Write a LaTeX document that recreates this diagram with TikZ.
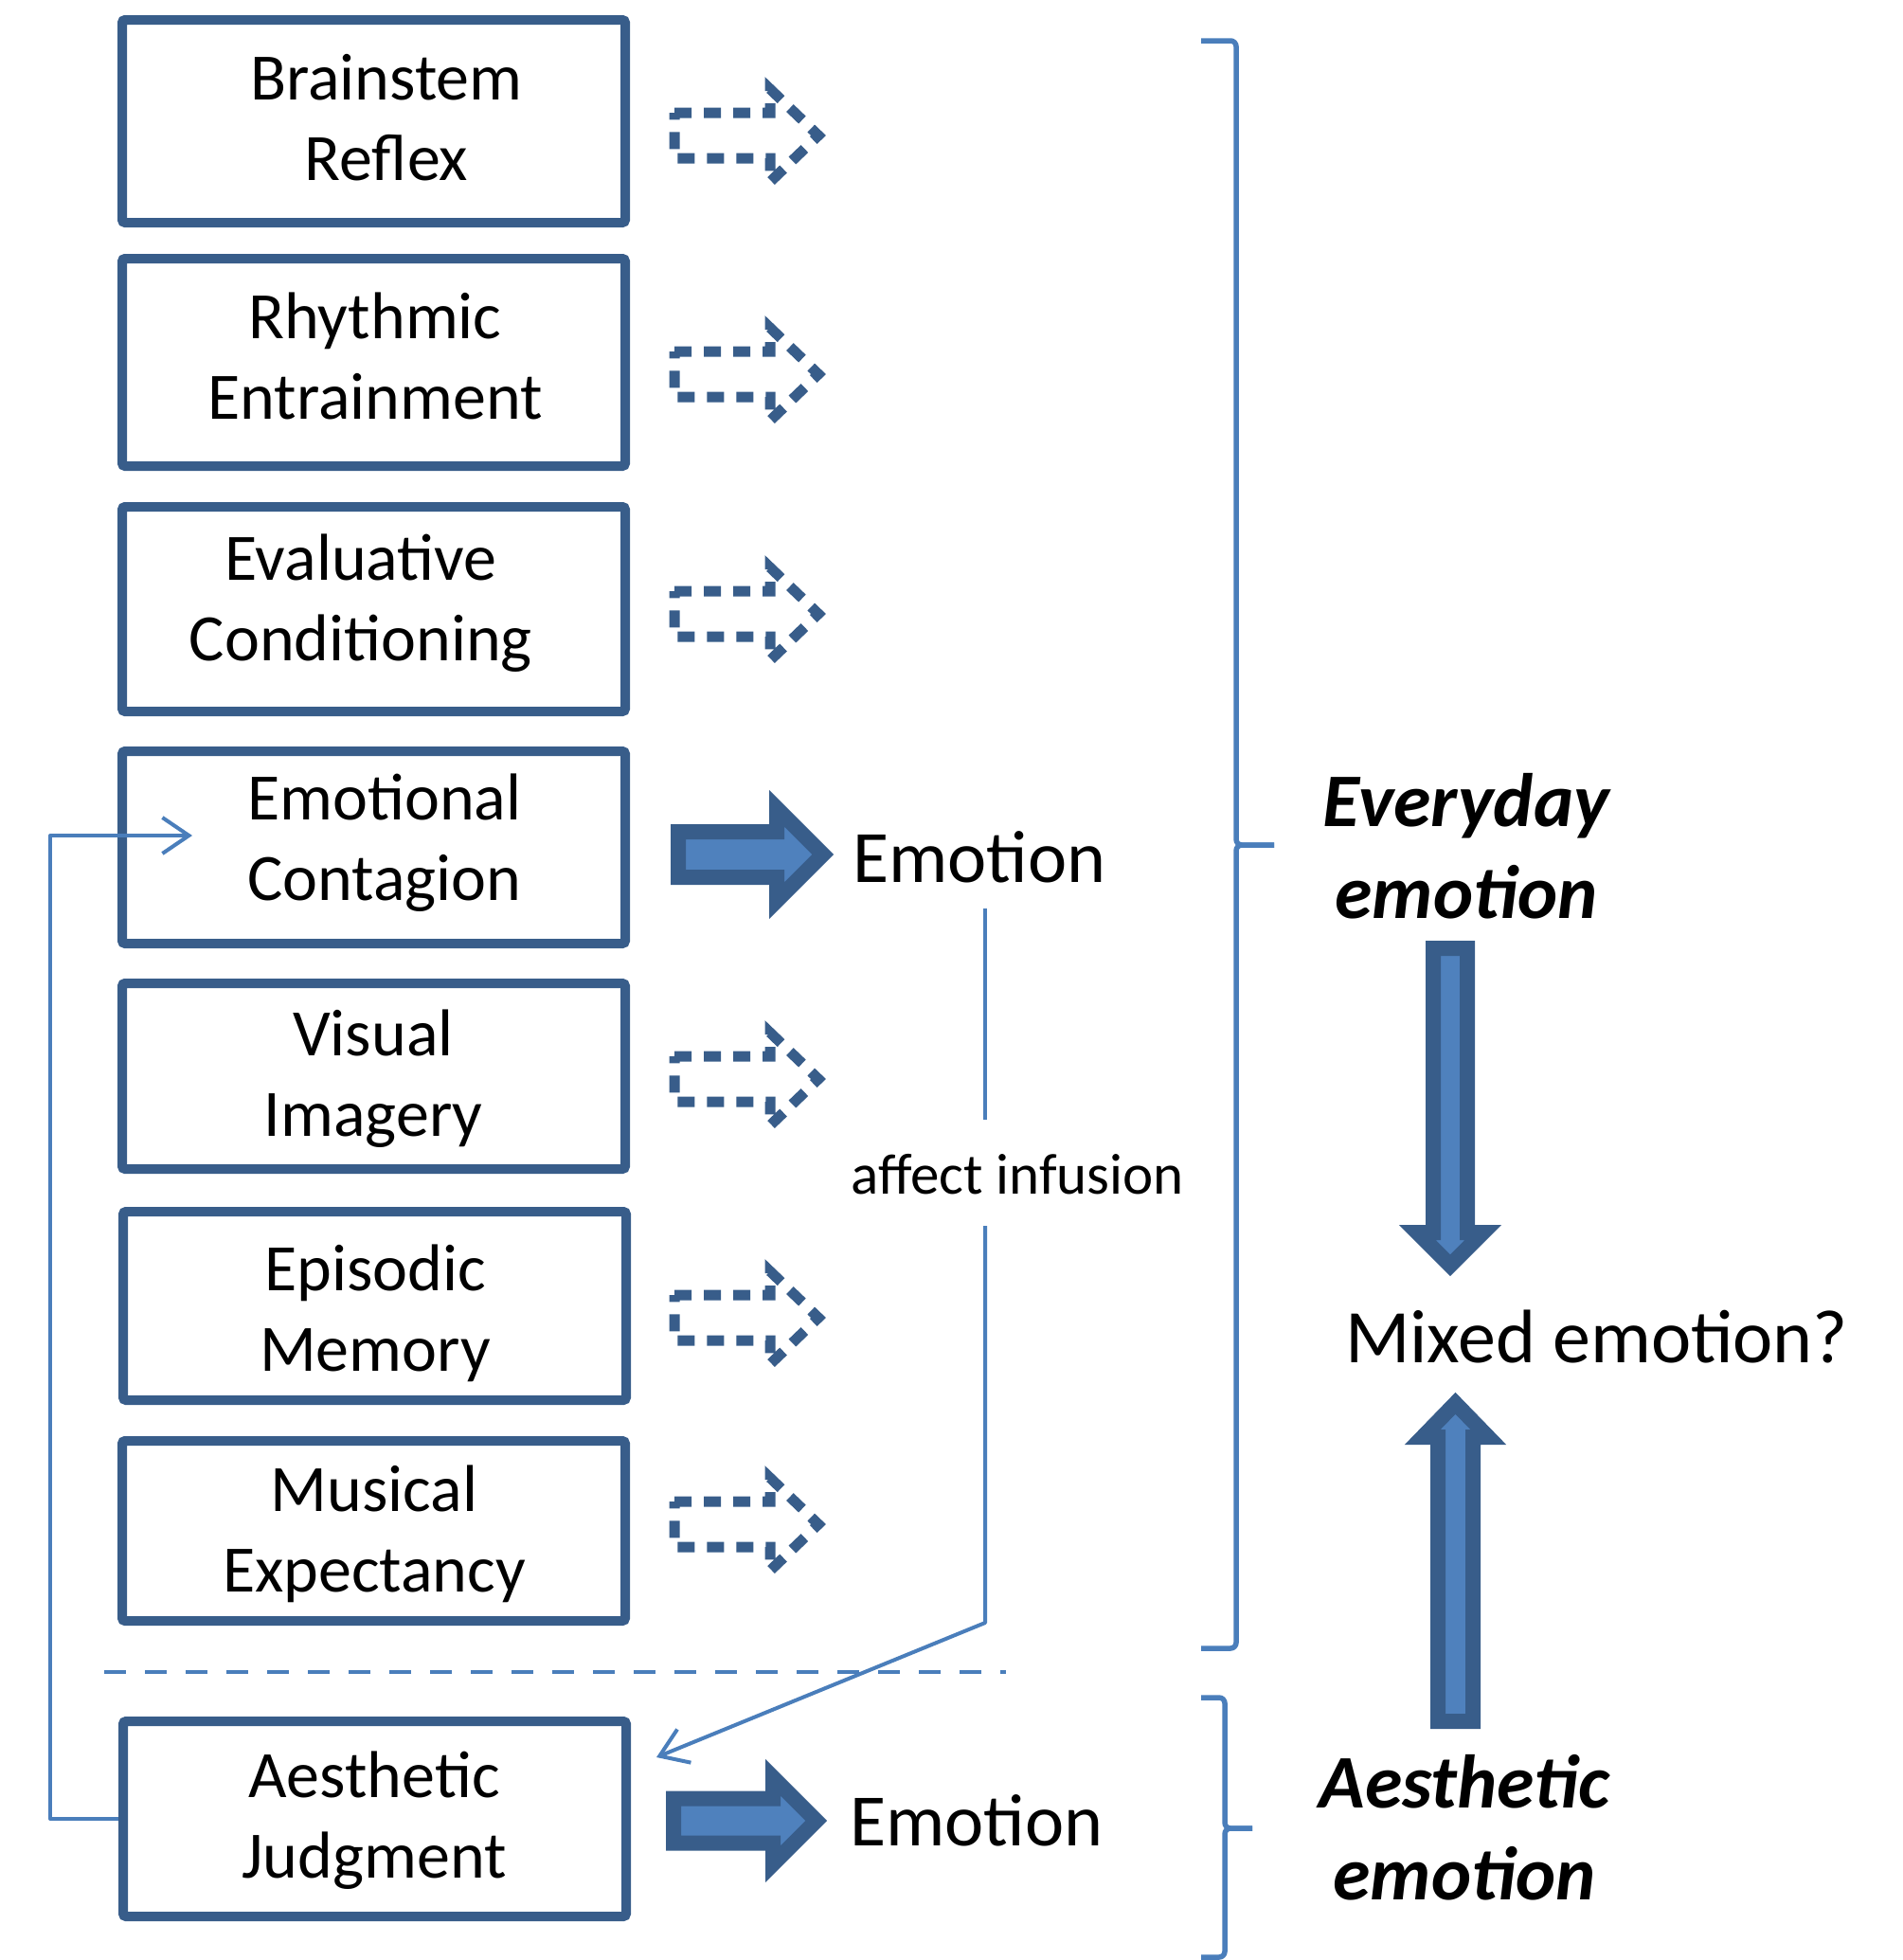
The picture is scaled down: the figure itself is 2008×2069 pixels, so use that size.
\documentclass[tikz,border=0pt]{standalone}
\usepackage{fontspec}
\setmainfont{Carlito}
\usetikzlibrary{arrows.meta}
\definecolor{dk}{RGB}{56,93,138}
\definecolor{lt}{RGB}{79,129,189}
\definecolor{ln}{RGB}{74,126,187}
\newcommand\bx[1]{\vphantom{H}\smash{#1}}
\begin{document}
\begin{tikzpicture}[x=1pt,y=-1pt,
  boxst/.style={draw=dk,line width=10pt,rounded corners=3pt,minimum width=531pt,inner sep=0pt},
  btext/.style={align=center,inner sep=0pt,font=\fontsize{70}{85}\selectfont},
  dasharr/.style={draw=dk,line width=11pt,dash pattern=on 18pt off 13pt},
  blockarr/.style={fill=lt,draw=dk,line width=16pt,line join=miter},
  conn/.style={draw=ln,line width=4pt,line join=round},
  brace/.style={draw=ln,line width=5.5pt,rounded corners=6pt},
  barb/.style={-{Straight Barb[length=28pt,width=38pt]}},
  emo/.style={anchor=base west,inner sep=0pt,font=\fontsize{78}{93}\selectfont},
  side/.style={align=center,inner sep=0pt,font=\fontsize{80}{97}\selectfont\bfseries\itshape},
]
\useasboundingbox (0,0) rectangle (2008,2069);

% boxes
\node[boxst,minimum height=214pt] (b1) at (394.5,128) {};
\node[btext] (t1) at (408,126) {\bx{Brainstem}\\\bx{Reflex}};
\node[boxst,minimum height=219pt] (b2) at (394.5,382.5) {};
\node[btext] (t2) at (396,378) {\bx{Rhythmic}\\\bx{Entrainment}};
\node[boxst,minimum height=216pt] (b3) at (394.5,643) {};
\node[btext] (t3) at (381,633) {\bx{Evaluative}\\\bx{Conditioning}};
\node[boxst,minimum height=203pt] (b4) at (394.5,894.5) {};
\node[btext] (t4) at (406,886) {\bx{Emotional}\\\bx{Contagion}};
\node[boxst,minimum height=196pt] (b5) at (394.5,1136) {};
\node[btext] (t5) at (394,1135) {\bx{Visual}\\\bx{Imagery}};
\node[boxst,minimum height=199pt] (b6) at (395.5,1378.5) {};
\node[btext] (t6) at (396,1383) {\bx{Episodic}\\\bx{Memory}};
\node[boxst,minimum height=190pt] (b7) at (394.5,1616) {};
\node[btext] (t7) at (395,1616) {\bx{Musical}\\\bx{Expectancy}};
\node[boxst,minimum height=206pt] (b8) at (395.5,1920) {};
\node[btext] (t8) at (395,1918) {\bx{Aesthetic}\\\bx{Judgment}};

% dashed block arrows
\foreach \yc in {143,395,648,1139,1391,1609}{
  \draw[dasharr,shift={(0,\yc)}] (712,-24) -- (813,-24) -- (813,-49) -- (864,0) -- (813,49) -- (813,24) -- (712,24) -- cycle;
}

% solid block arrows
\path[blockarr] (716,878) -- (820,878) -- (820,853.3) -- (868.7,902) -- (820,950.7) -- (820,926) -- (716,926) -- cycle;
\path[blockarr] (711,1898.5) -- (816,1898.5) -- (816,1876.3) -- (861.7,1922) -- (816,1967.7) -- (816,1945.5) -- (711,1945.5) -- cycle;
\path[blockarr] (1513,1001) -- (1549,1001) -- (1549,1301) -- (1565.7,1301) -- (1531,1335.7) -- (1496.3,1301) -- (1513,1301) -- cycle;
\path[blockarr] (1518,1817) -- (1555,1817) -- (1555,1517) -- (1571.2,1517) -- (1536.5,1481.3) -- (1501.8,1517) -- (1518,1517) -- cycle;

% texts
\node[emo] (e1) at (900,931) {Emotion};
\node[emo] (e2) at (897,1948) {Emotion};
\node[side] (ev) at (1548,895.5) {\bx{Everyday}\\\bx{emotion}};
\node[side] (ae) at (1546,1931.5) {\bx{Aesthetic}\\\bx{emotion}};
\node[anchor=base west,inner sep=0pt,font=\fontsize{80}{96}\selectfont] (mx) at (1420,1438) {Mixed emotion?};
\node[inner sep=0pt,minimum height=112pt,text height=45pt,text depth=0pt,font=\fontsize{61}{73}\selectfont] (ai) at (1074,1238) {affect infusion};

% affect infusion connector
\coordinate (aitop) at (1040,959);
\coordinate (aibend) at (1040,1713);
\coordinate (aitip) at (693,1855);
\draw[conn] (aitop) -- (aitop |- ai.north);
\draw[conn,barb] (aitop |- ai.south) -- (aibend) -- (aitip);

% feedback connector
\coordinate (fbx) at (53,0);
\coordinate (fbtip) at (203,882);
\draw[conn,barb] (b8.west) -- (b8.west -| fbx) |- (fbtip);

% separator
\coordinate (sepL) at (110,1765);
\coordinate (sepR) at (1062,1765);
\draw[conn,dash pattern=on 23pt off 20pt] (sepL) -- (sepR);

% braces
\draw[brace] (1268,43) -- (1305,43) -- (1305,892) -- (1345,892);
\draw[brace] (1345,892) -- (1305,892) -- (1305,1740) -- (1268,1740);
\draw[brace] (1268,1792) -- (1293,1792) -- (1293,1930) -- (1322,1930);
\draw[brace] (1322,1930) -- (1293,1930) -- (1293,2066) -- (1268,2066);
\end{tikzpicture}
\end{document}
